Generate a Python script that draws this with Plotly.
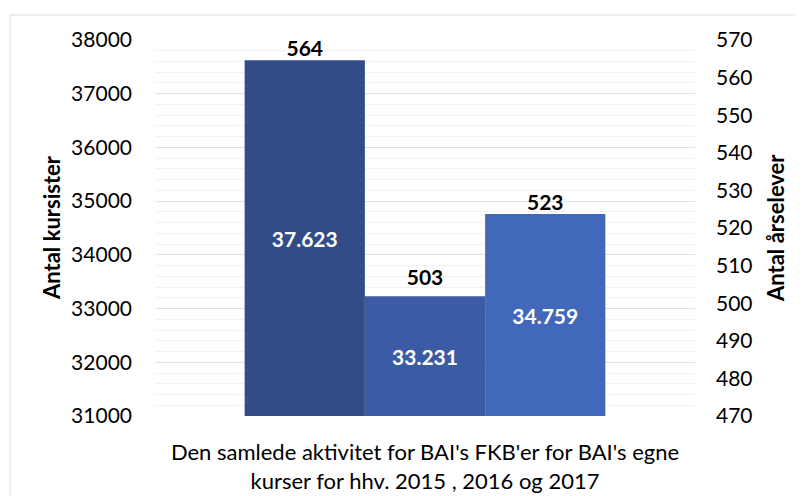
import plotly.graph_objects as go

category = ["Den samlede aktivitet for BAI's FKB'er for BAI's egne<br>kurser for hhv. 2015 , 2016 og 2017"]
years = ["2015", "2016", "2017"]
kursister = [37623, 33231, 34759]
aarselever = [564, 503, 523]
colors = ["#314c87", "#3b5ba5", "#4268bc"]
left_ticks = list(range(31000, 38001, 1000))
right_ticks = list(range(470, 571, 10))

FONT = "Lato"
fig = go.Figure()
for yr, k, c in zip(years, kursister, colors):
    fig.add_trace(go.Bar(
        x=category, y=[k - 31000], base=31000, name=yr, offsetgroup=yr,
        marker=dict(color=c, line=dict(width=0)),
        texttemplate="%{customdata:,}", customdata=[k],
        textposition="inside", insidetextanchor="middle",
        textfont=dict(family=FONT, size=21, color="white", weight="bold"),
        yaxis="y", hoverinfo="skip", showlegend=False,
    ))
for yr, a in zip(years, aarselever):
    fig.add_trace(go.Bar(
        x=category, y=[a - 470], base=470, name=yr + " årselever", offsetgroup=yr,
        marker=dict(color="rgba(0,0,0,0)", line=dict(width=0)),
        texttemplate="%{customdata}", customdata=[a],
        textposition="outside", cliponaxis=False,
        textfont=dict(family=FONT, size=21, color="black", weight="bold"),
        yaxis="y2", hoverinfo="skip", showlegend=False,
    ))

fig.update_layout(
    width=795, height=488,
    margin=dict(l=147, r=108, t=32, b=80, autoexpand=False),
    paper_bgcolor="white", plot_bgcolor="white",
    separators=",.",
    barmode="group", bargap=0.332, bargroupgap=0,
    font=dict(family=FONT, size=21, color="black"),
    xaxis=dict(showgrid=False, showline=False, ticks="", ticklabelstandoff=21,
               automargin=False, tickfont=dict(family=FONT, size=22)),
    yaxis=dict(range=[31000, 38000], tickvals=left_ticks, tickformat="d",
               showgrid=True, gridcolor="#dde1e8", gridwidth=1.3,
               minor=dict(dtick=200, showgrid=True, gridcolor="#f0f1f4", gridwidth=1),
               zeroline=False, showline=False, ticks="", ticklabelstandoff=22,
               automargin=False, tickfont=dict(family=FONT, size=21)),
    yaxis2=dict(range=[470, 570], tickvals=right_ticks, overlaying="y", side="right",
                showgrid=False, zeroline=False, showline=False, ticks="",
                automargin=False,
                ticklabelstandoff=20, tickfont=dict(family=FONT, size=21)),
    annotations=[
        dict(text="<b>Antal kursister</b>", textangle=-90, xref="paper", yref="paper",
             x=0, y=0.5, xanchor="center", yanchor="middle", xshift=-104, yshift=0,
             showarrow=False, font=dict(family=FONT, size=22)),
        dict(text="<b>Antal årselever</b>", textangle=-90, xref="paper", yref="paper",
             x=1, y=0.5, xanchor="center", yanchor="middle", xshift=80, yshift=0,
             showarrow=False, font=dict(family=FONT, size=22)),
    ],
    shapes=[dict(type="rect", xref="paper", yref="paper",
                 xsizemode="pixel", ysizemode="pixel", xanchor=0, yanchor=1,
                 x0=-145, x1=700, y0=-470, y1=25,
                 line=dict(color="#d9dee6", width=1), fillcolor="rgba(0,0,0,0)",
                 layer="below")],
)
fig.write_html("out.html")
